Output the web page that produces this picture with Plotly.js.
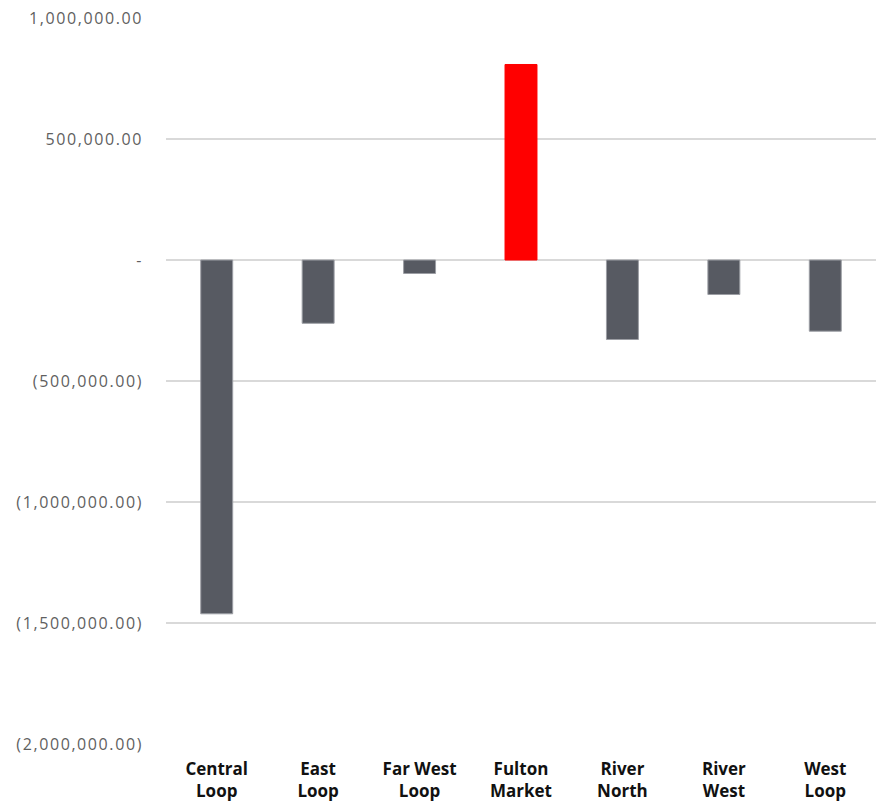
<!DOCTYPE html>
<html>
<head>
<meta charset="utf-8">
<script src="https://cdn.plot.ly/plotly-3.0.1.min.js"></script>
<style>
  html, body { margin: 0; padding: 0; background: #ffffff; }
  #chart { width: 878px; height: 801px; }
  .ytick text { letter-spacing: 1.6px; }
</style>
</head>
<body>
<div id="chart"></div>
<script>
// Net change by submarket
const submarkets = ["Central<br>Loop", "East<br>Loop", "Far West<br>Loop", "Fulton<br>Market", "River<br>North", "River<br>West", "West<br>Loop"];
const netChange = [-1462000, -261600, -55800, 807900, -328500, -142600, -294200];

const yTickVals = [1000000, 500000, 0, -500000, -1000000, -1500000, -2000000];
const yTickText = ["1,000,000.00", "500,000.00", "-", "(500,000.00)", "(1,000,000.00)", "(1,500,000.00)", "(2,000,000.00)"];

const GRAY = "#575a62";
const GRAY_EDGE = "#9c9ea4";
const RED = "#ff0000";

const fills = netChange.map(v => v > 0 ? RED : GRAY);
const edges = netChange.map(v => v > 0 ? RED : GRAY_EDGE);

const trace = {
  type: "bar",
  x: submarkets,
  y: netChange,
  marker: { color: fills, line: { color: edges, width: 1 } },
  hoverinfo: "x+y"
};

const layout = {
  width: 878,
  height: 801,
  margin: { l: 166, r: 2, t: 18, b: 57 },
  paper_bgcolor: "#ffffff",
  plot_bgcolor: "#ffffff",
  showlegend: false,
  bargap: 0.685,
  font: { family: "Open Sans, sans-serif" },
  xaxis: {
    showgrid: false,
    zeroline: false,
    showline: false,
    ticks: "",
    ticklabelstandoff: 13,
    tickfont: { family: "Open Sans, sans-serif", size: 17, color: "#111111", weight: "bold" }
  },
  yaxis: {
    range: [-2000000, 1000000],
    tickmode: "array",
    tickvals: yTickVals,
    ticktext: yTickText,
    showgrid: true,
    gridcolor: "#d9d9d9",
    gridwidth: 2,
    zeroline: false,
    showline: false,
    ticks: "",
    ticklabelstandoff: 22,
    tickfont: { family: "Open Sans, sans-serif", size: 16, color: "#5f5f5f" }
  }
};

Plotly.newPlot("chart", [trace], layout, { displayModeBar: false, staticPlot: true });
</script>
</body>
</html>
